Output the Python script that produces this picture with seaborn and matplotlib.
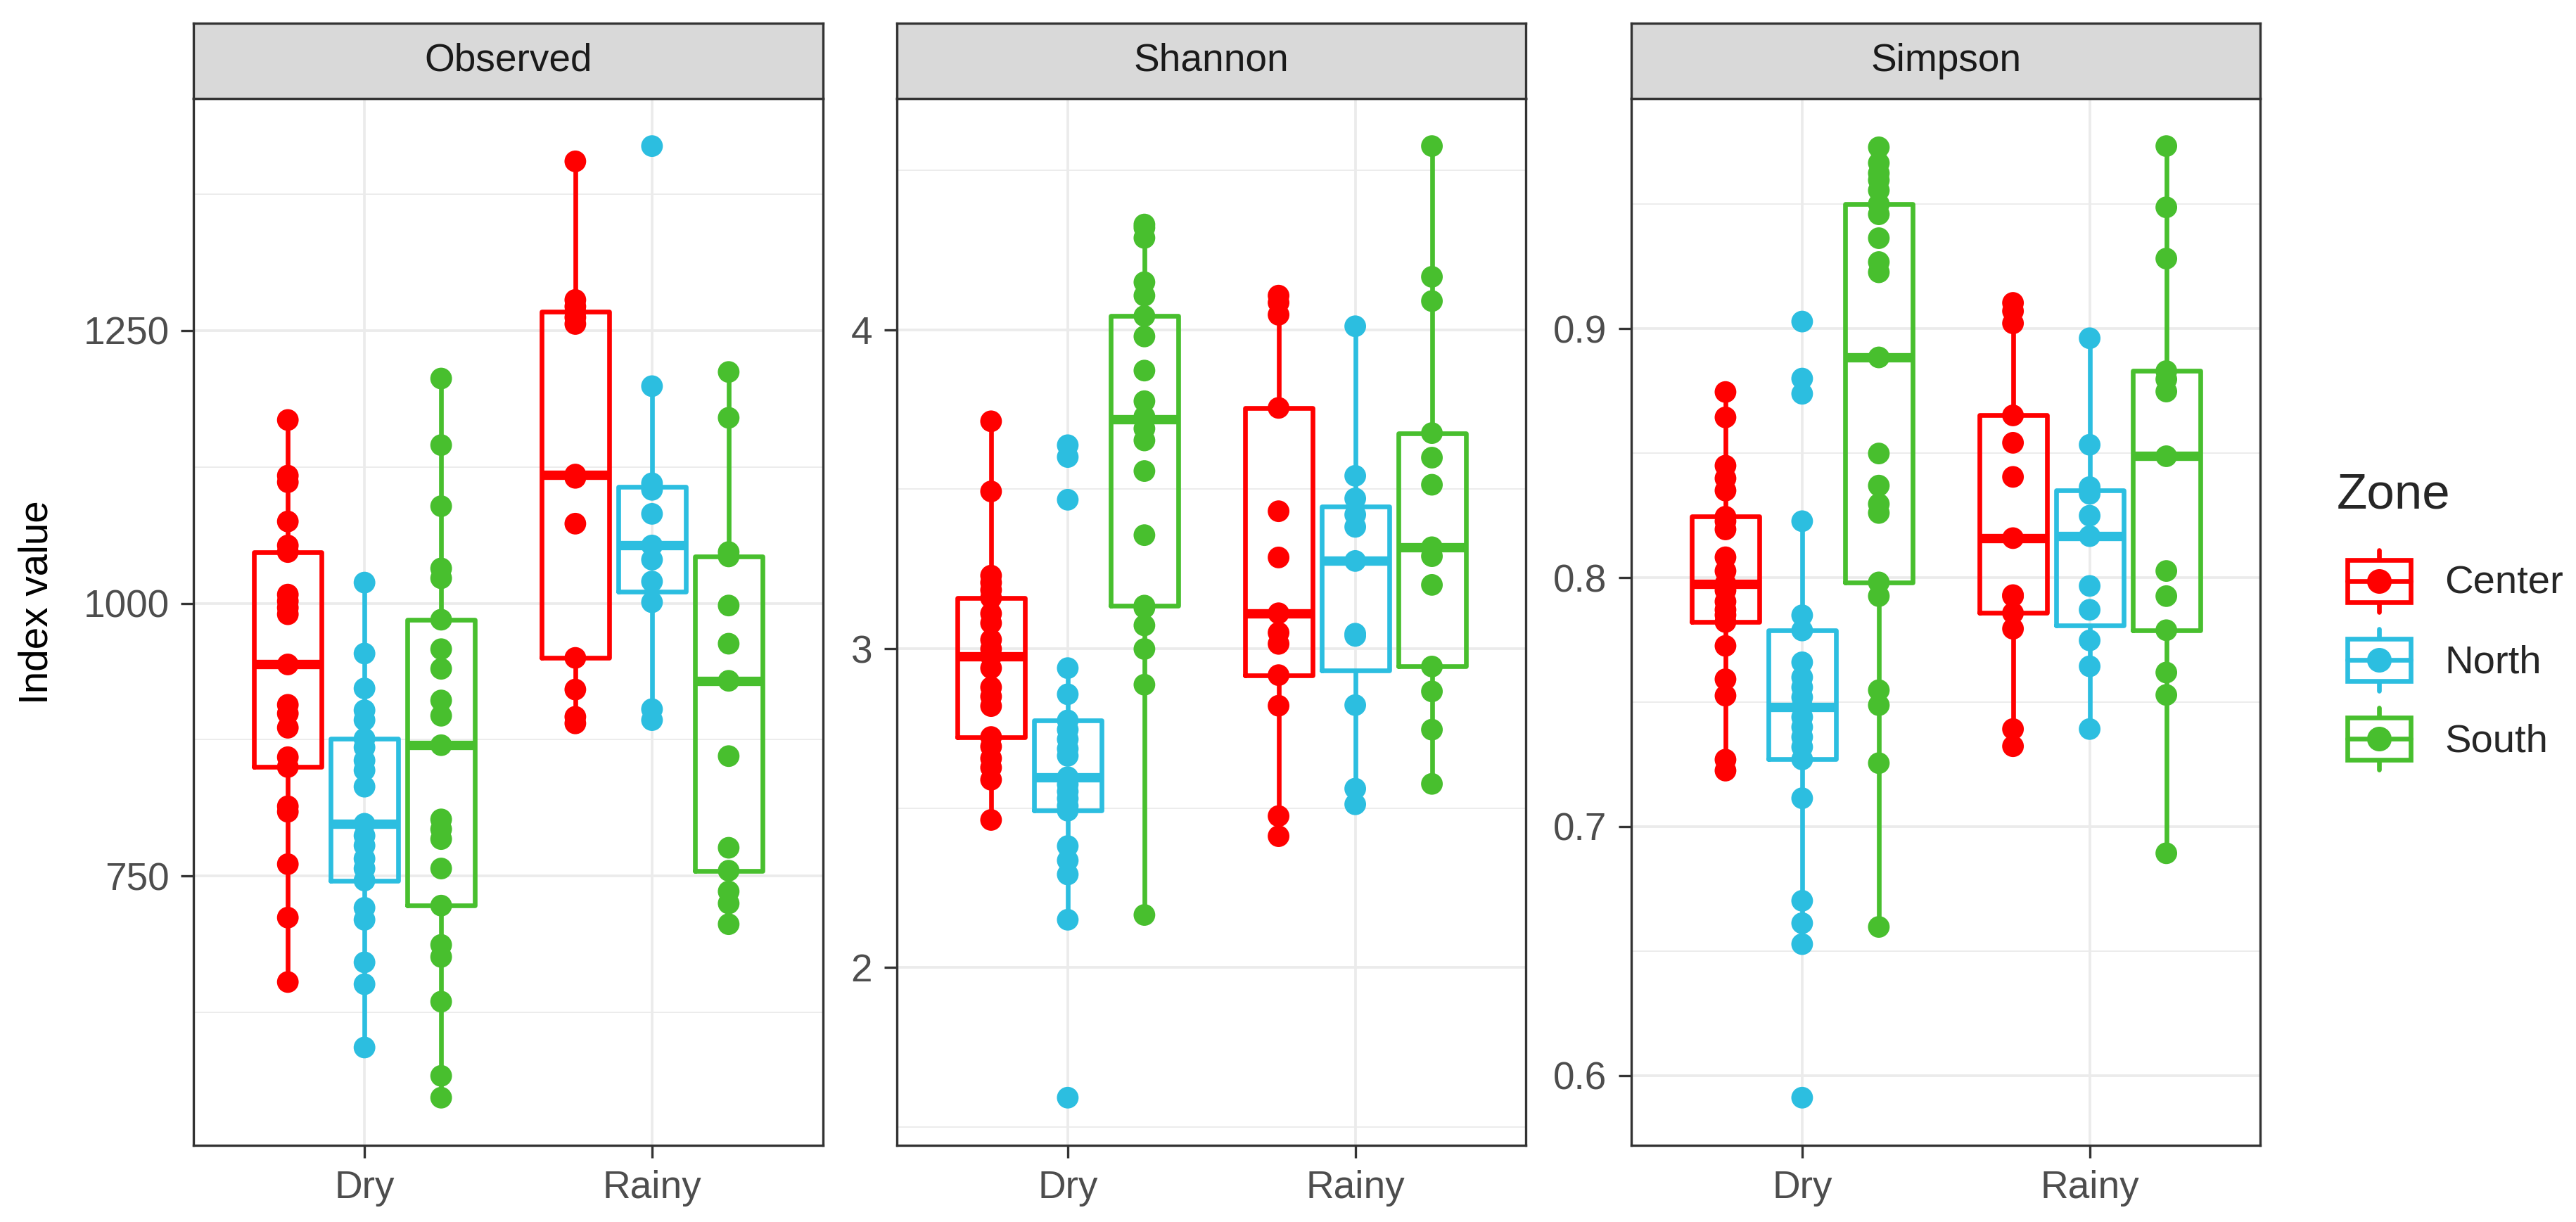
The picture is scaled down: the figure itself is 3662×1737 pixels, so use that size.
import numpy as np
import pandas as pd
import matplotlib
matplotlib.use("Agg")
import matplotlib.pyplot as plt
import seaborn as sns
from matplotlib.legend_handler import HandlerBase
from matplotlib.patches import Rectangle
from matplotlib.lines import Line2D

# ---------------- data ----------------
seasons = ["Dry", "Rainy"]
zones = ["Center", "North", "South"]
zone_colors = ["#FF0000", "#2CBEE0", "#48BF2E"]
indices = ["Observed", "Shannon", "Simpson"]

# Observed
obs_dry_center = [1168, 1117, 1111, 1075, 1053, 1047, 1008, 1002, 996, 990, 944,
                  907, 899, 886, 859, 850, 814, 809, 761, 712, 653]
obs_dry_north = [1019, 954, 922, 902, 893, 876, 868, 856, 847, 832, 798,
                 787, 778, 766, 757, 746, 721, 710, 671, 651, 593]
obs_dry_south = [1206, 1145, 1089, 1032, 1023, 985, 958, 940, 911, 897, 870,
                 802, 793, 784, 757, 723, 687, 676, 635, 567, 547]
obs_rainy_center = [1405, 1278, 1272, 1267, 1262, 1256, 1118, 1115, 1073, 950, 921, 896, 890]
obs_rainy_north = [1419, 1199, 1110, 1104, 1082, 1053, 1040, 1020, 1001, 903, 893]
obs_rainy_south = [1212, 1170, 1047, 1043, 998, 963, 929, 860, 776, 755, 736, 725, 706]

# Shannon
sh_dry_center = [3.713, 3.493, 3.229, 3.207, 3.184, 3.159, 3.110, 3.080, 3.028, 2.999, 2.976,
                 2.939, 2.879, 2.850, 2.820, 2.723, 2.693, 2.656, 2.627, 2.589, 2.463]
sh_dry_north = [3.638, 3.601, 3.467, 2.939, 2.857, 2.775, 2.746, 2.716, 2.686, 2.664, 2.597,
                2.574, 2.552, 2.530, 2.507, 2.492, 2.381, 2.336, 2.292, 2.150, 1.592]
sh_dry_south = [4.330, 4.320, 4.288, 4.149, 4.107, 4.043, 3.979, 3.872, 3.776, 3.728, 3.720,
                3.690, 3.653, 3.557, 3.356, 3.135, 3.128, 3.073, 2.999, 2.887, 2.165]
sh_rainy_center = [4.107, 4.085, 4.047, 3.755, 3.431, 3.286, 3.111, 3.050, 3.015, 2.917, 2.821, 2.475, 2.412]
sh_rainy_north = [4.011, 3.542, 3.471, 3.420, 3.382, 3.275, 3.047, 3.040, 2.823, 2.561, 2.512]
sh_rainy_south = [4.576, 4.166, 4.090, 3.676, 3.599, 3.514, 3.318, 3.290, 3.200, 2.944, 2.866, 2.746, 2.576]

# Simpson
si_dry_center = [0.8746, 0.8644, 0.8450, 0.8399, 0.8350, 0.8245, 0.8227, 0.8194, 0.8082, 0.8027, 0.7976,
                 0.7949, 0.7904, 0.7871, 0.7850, 0.7822, 0.7726, 0.7592, 0.7526, 0.7269, 0.7225]
si_dry_north = [0.9029, 0.8800, 0.8739, 0.8227, 0.7849, 0.7788, 0.7660, 0.7600, 0.7560, 0.7520, 0.7481,
                0.7440, 0.7400, 0.7360, 0.7320, 0.7270, 0.7114, 0.6702, 0.6612, 0.6528, 0.5911]
si_dry_south = [0.9729, 0.9666, 0.9625, 0.9597, 0.9556, 0.9501, 0.9460, 0.9364, 0.9268, 0.9227, 0.8885,
                0.8499, 0.8370, 0.8296, 0.8260, 0.7981, 0.7926, 0.7548, 0.7488, 0.7255, 0.6597]
si_rainy_center = [0.9104, 0.9071, 0.9022, 0.8652, 0.8542, 0.8405, 0.8159, 0.7930, 0.7926, 0.7858, 0.7795, 0.7392, 0.7323]
si_rainy_north = [0.8962, 0.8534, 0.8364, 0.8337, 0.8249, 0.8167, 0.7967, 0.7871, 0.7748, 0.7644, 0.7392]
si_rainy_south = [0.9734, 0.9488, 0.9282, 0.8830, 0.8797, 0.8748, 0.8488, 0.8027, 0.7926, 0.7789, 0.7619, 0.7529, 0.6893]

obs_ticks = [750, 1000, 1250]
obs_minor = [625, 875, 1125, 1375]
sh_ticks = [2, 3, 4]
sh_minor = [1.5, 2.5, 3.5, 4.5]
si_ticks = [0.6, 0.7, 0.8, 0.9]
si_minor = [0.65, 0.75, 0.85, 0.95]
obs_labels = ["750", "1000", "1250"]
sh_labels = ["2", "3", "4"]
si_labels = ["0.6", "0.7", "0.8", "0.9"]


def build(groups):
    rows = []
    for (s, z), vals in groups.items():
        rows += [(s, z, v) for v in vals]
    return pd.DataFrame(rows, columns=["Season", "Zone", "value"])


panels = [
    (build({("Dry", "Center"): obs_dry_center, ("Dry", "North"): obs_dry_north, ("Dry", "South"): obs_dry_south,
            ("Rainy", "Center"): obs_rainy_center, ("Rainy", "North"): obs_rainy_north,
            ("Rainy", "South"): obs_rainy_south}), obs_ticks, obs_labels, obs_minor),
    (build({("Dry", "Center"): sh_dry_center, ("Dry", "North"): sh_dry_north, ("Dry", "South"): sh_dry_south,
            ("Rainy", "Center"): sh_rainy_center, ("Rainy", "North"): sh_rainy_north,
            ("Rainy", "South"): sh_rainy_south}), sh_ticks, sh_labels, sh_minor),
    (build({("Dry", "Center"): si_dry_center, ("Dry", "North"): si_dry_north, ("Dry", "South"): si_dry_south,
            ("Rainy", "Center"): si_rainy_center, ("Rainy", "North"): si_rainy_north,
            ("Rainy", "South"): si_rainy_south}), si_ticks, si_labels, si_minor),
]

# ---------------- style ----------------
sns.set_theme(style="white")
plt.rcParams["font.family"] = ["Liberation Sans", "DejaVu Sans"]

W, H = 3662, 1737
fig = plt.figure(figsize=(W / 300, H / 300), dpi=300)

lefts = [0.0752, 0.3482, 0.6333]
pw = 0.2442
pb = 0.0628
pt = 0.9194
st = 0.981
LW = 1.6
DOT = 7.4
FS = 13.2
LEG_FS = 13.5

for i, (df, ticks, labels, minor) in enumerate(panels):
    ax = fig.add_axes([lefts[i], pb, pw, pt - pb])
    sns.boxplot(data=df, x="Season", y="value", hue="Zone", order=seasons, hue_order=zones,
                palette=zone_colors, fill=False, width=0.8, gap=0.12, showfliers=False,
                showcaps=False, linewidth=LW, whis=1.5, medianprops={"linewidth": LW * 2},
                legend=False, ax=ax)
    sns.stripplot(data=df, x="Season", y="value", hue="Zone", order=seasons, hue_order=zones,
                  palette=zone_colors, dodge=True, jitter=False, size=DOT, linewidth=0,
                  legend=False, ax=ax, zorder=4)
    vmin, vmax = df["value"].min(), df["value"].max()
    pad = 0.05 * (vmax - vmin)
    ax.set_ylim(vmin - pad, vmax + pad)
    ax.set_xlim(-0.594, 1.594)
    ax.set_xlabel("")
    ax.set_ylabel("")
    ax.set_yticks(ticks, labels=labels)
    ax.set_yticks(minor, minor=True)
    ax.set_axisbelow(True)
    ax.grid(True, which="major", color="#EBEBEB", linewidth=0.9)
    ax.grid(True, which="minor", axis="y", color="#EBEBEB", linewidth=0.45)
    ax.tick_params(axis="both", which="major", length=4.4, width=0.8, color="#333333",
                   labelsize=FS, labelcolor="#4D4D4D", pad=4.0, direction="out",
                   left=True, bottom=True)
    ax.tick_params(which="minor", length=0)
    for sp in ax.spines.values():
        sp.set_visible(True)
        sp.set_color("#333333")
        sp.set_linewidth(0.8)
    ax.set_facecolor("white")

    sax = fig.add_axes([lefts[i], pt, pw, st - pt])
    sax.set_facecolor("#D9D9D9")
    sax.set_xticks([])
    sax.set_yticks([])
    for sp in sax.spines.values():
        sp.set_visible(True)
        sp.set_color("#333333")
        sp.set_linewidth(0.8)
    sax.text(0.5, 0.5, indices[i], ha="center", va="center", fontsize=FS, color="#1A1A1A",
             transform=sax.transAxes)

fig.text(0.0142, 0.507, "Index value", rotation=90, ha="center", va="center",
         fontsize=13.6, color="black")


class BoxKey(HandlerBase):
    def create_artists(self, legend, orig_handle, xdescent, ydescent, width, height, fontsize, trans):
        c = orig_handle.get_color()
        x0, y0 = -xdescent, -ydescent
        kw = width * 0.86
        kx = x0 + width - kw
        cx, cy = kx + kw / 2, y0 + height / 2
        bh = height * 0.68
        wl = Line2D([cx, cx], [y0, y0 + height], color=c, lw=LW, transform=trans)
        box = Rectangle((kx, cy - bh / 2), kw, bh, facecolor="white", edgecolor=c, lw=LW,
                        transform=trans)
        med = Line2D([kx, kx + kw], [cy, cy], color=c, lw=LW, transform=trans)
        dot = Line2D([cx], [cy], marker="o", markersize=DOT, color=c, lw=0, transform=trans)
        return [wl, box, med, dot]


handles = [Line2D([], [], color=c) for c in zone_colors]
leg = fig.legend(handles, zones, title="Zone", handler_map={Line2D: BoxKey()},
                 loc="upper left", bbox_to_anchor=(0.9072, 0.6137), frameon=False,
                 fontsize=LEG_FS, title_fontsize=17, handlelength=1.87, handleheight=2.03,
                 labelspacing=0.43, handletextpad=0.85, alignment="left",
                 borderaxespad=0, borderpad=0)
leg._legend_box.sep = 0.43 * LEG_FS + 5.0

fig.savefig("out.png", dpi=300, facecolor="white")
